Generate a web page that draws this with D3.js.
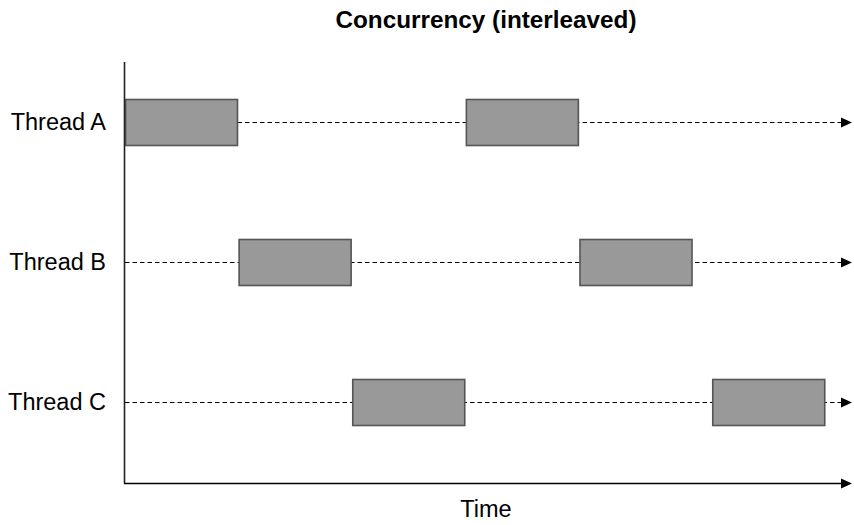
<!DOCTYPE html>
<html>
<head>
<meta charset="utf-8">
<script src="https://cdn.jsdelivr.net/npm/d3@7"></script>
<style>
  html, body { margin: 0; padding: 0; background: #fff; }
  svg { display: block; }
  text { font-family: "Liberation Sans", Arial, Helvetica, sans-serif; fill: #000; }
</style>
</head>
<body>
<svg id="chart" width="854" height="525"></svg>
<script>
// ---- data ----
const threads = ["Thread A", "Thread B", "Thread C"];
const sliceThread = ["Thread A", "Thread B", "Thread C", "Thread A", "Thread B", "Thread C"];
const sliceStart = [0.00, 1.01, 2.02, 3.03, 4.04, 5.22];
const sliceEnd   = [1.00, 2.01, 3.02, 4.03, 5.04, 6.22];
const timeMax = 6.4;
const titleText = "Concurrency (interleaved)";
const xLabelText = "Time";

// ---- layout ----
const svg = d3.select("#chart");
const x = d3.scaleLinear().domain([0, timeMax]).range([125, 845]);
const y = d3.scalePoint().domain(threads).range([122.5, 402.5]);
const barH = 46;
const axisTop = 62, axisBottom = 483.5;

// row dashed lines with arrowheads
const rows = svg.append("g");
threads.forEach(t => {
  const cy = y(t);
  rows.append("line")
    .attr("x1", x(0)).attr("x2", x(timeMax) - 3)
    .attr("y1", cy).attr("y2", cy)
    .attr("stroke", "#000").attr("stroke-width", 1)
    .attr("stroke-dasharray", "4.5,3");
  rows.append("path")
    .attr("d", `M${x(timeMax) - 4},${cy - 5} L${x(timeMax) + 7},${cy} L${x(timeMax) - 4},${cy + 5} Z`)
    .attr("fill", "#000");
});

// bars
svg.append("g").selectAll("rect")
  .data(sliceStart.map((s, i) => ({ t: sliceThread[i], s, e: sliceEnd[i] })))
  .join("rect")
  .attr("x", d => x(d.s) + 0.5)
  .attr("y", d => y(d.t) - barH / 2)
  .attr("width", d => x(d.e) - x(d.s) - 0.5)
  .attr("height", barH)
  .attr("fill", "#999999")
  .attr("stroke", "#555555")
  .attr("stroke-width", 1.6);

// axes
svg.append("line")
  .attr("x1", 124.5).attr("x2", 124.5)
  .attr("y1", axisTop).attr("y2", axisBottom)
  .attr("stroke", "#222").attr("stroke-width", 1.6);
svg.append("line")
  .attr("x1", 124).attr("x2", x(timeMax) - 2)
  .attr("y1", axisBottom).attr("y2", axisBottom)
  .attr("stroke", "#000").attr("stroke-width", 1.6);
svg.append("path")
  .attr("d", `M${x(timeMax) - 4},${axisBottom - 5} L${x(timeMax) + 7},${axisBottom} L${x(timeMax) - 4},${axisBottom + 5} Z`)
  .attr("fill", "#000");

// thread labels
svg.append("g").selectAll("text")
  .data(threads)
  .join("text")
  .attr("x", 106)
  .attr("y", d => y(d) + 7)
  .attr("text-anchor", "end")
  .attr("font-size", 23.5)
  .text(d => d);

// title
const cx = 486;
svg.append("text")
  .attr("x", cx).attr("y", 28)
  .attr("text-anchor", "middle")
  .attr("font-size", 24.3)
  .attr("font-weight", "bold")
  .text(titleText);

// x label
svg.append("text")
  .attr("x", cx).attr("y", 517)
  .attr("text-anchor", "middle")
  .attr("font-size", 23.5)
  .text(xLabelText);
</script>
</body>
</html>
